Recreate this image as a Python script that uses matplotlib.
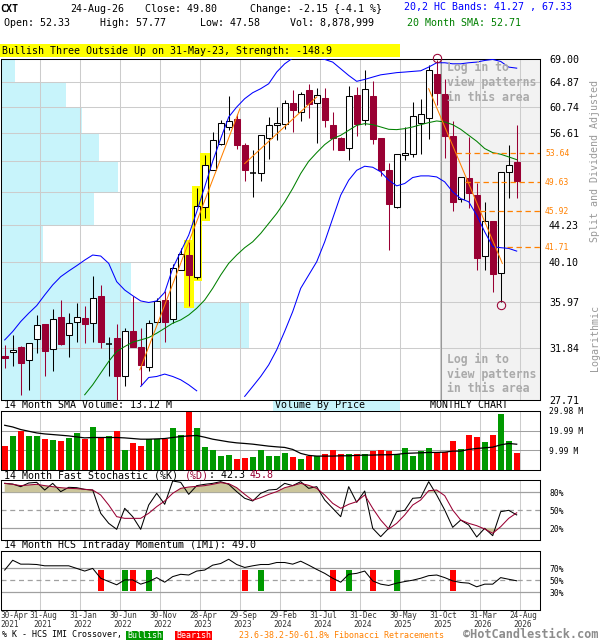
"""Monthly candlestick chart for CXT with bands, volume, stochastic and IMI panels."""

import numpy as np
import matplotlib
matplotlib.use('Agg')
import matplotlib.pyplot as plt
from matplotlib import ticker, transforms
from matplotlib.patches import Rectangle

plt.rcParams['font.family'] = ['DejaVu Sans Mono', 'DejaVu Sans']

W, H = 600, 640

# ---- data (monthly, Apr-2021 .. Aug-2026) ----
OPEN = [31.20, 31.49, 31.94, 30.85, 32.60, 33.97, 31.74, 34.58, 32.98, 34.12,
        34.51, 34.03, 36.60, 32.20, 32.69, 29.51, 33.30, 31.90, 30.23, 34.18,
        36.21, 34.45, 39.24, 40.84, 38.54, 46.46, 51.33, 55.02, 57.53, 58.71,
        54.76, 50.88, 50.92, 55.91, 57.78, 58.04, 61.39, 59.88, 63.44, 61.39,
        62.21, 57.88, 55.91, 54.44, 62.60, 58.66, 62.43, 55.86, 51.23, 46.46,
        53.43, 53.48, 58.14, 58.98, 66.21, 62.77, 56.16, 47.50, 50.20, 47.93,
        40.77, 44.76, 38.88, 51.02, 52.33]
HIGH = [32.12, 32.98, 32.00, 32.25, 34.79, 34.00, 35.36, 36.21, 34.95, 35.89,
        35.67, 38.64, 37.70, 32.78, 33.93, 33.57, 36.63, 33.63, 34.33, 36.37,
        37.09, 39.83, 41.57, 42.31, 48.80, 53.34, 56.76, 58.56, 62.43, 59.61,
        55.17, 54.15, 56.26, 59.08, 60.68, 61.77, 63.44, 63.16, 64.47, 63.90,
        63.90, 59.88, 56.03, 64.12, 64.01, 66.93, 64.99, 55.86, 52.30, 53.48,
        57.53, 61.50, 62.05, 67.82, 68.73, 65.33, 58.46, 50.33, 56.03, 49.58,
        47.01, 44.76, 51.02, 54.76, 57.77]
LOW = [30.18, 30.31, 28.10, 28.48, 31.46, 29.58, 29.96, 32.12, 31.07, 32.35,
       32.25, 32.40, 31.84, 29.51, 27.73, 28.73, 31.90, 28.86, 29.96, 33.93,
       32.40, 34.03, 39.24, 35.67, 38.31, 45.04, 51.23, 54.76, 57.02, 54.30,
       49.76, 47.72, 49.76, 52.86, 55.51, 57.17, 56.76, 58.46, 58.98, 55.12,
       57.53, 54.05, 54.05, 52.72, 56.11, 57.78, 54.93, 50.47, 41.39, 46.26,
       52.63, 53.10, 53.55, 55.76, 60.95, 53.01, 45.97, 47.09, 46.26, 39.24,
       39.24, 36.96, 36.06, 47.59, 47.58]
CLOSE = [31.00, 31.69, 30.58, 32.25, 33.88, 31.55, 34.39, 32.23, 34.03, 34.58,
         33.93, 36.37, 32.35, 32.20, 29.51, 33.37, 31.97, 30.39, 34.03, 36.11,
         34.18, 39.41, 40.91, 38.71, 46.55, 51.93, 55.61, 58.20, 58.46, 54.88,
         51.33, 50.88, 56.26, 57.78, 58.18, 61.39, 60.14, 62.88, 61.23, 62.60,
         58.66, 55.91, 54.15, 62.49, 57.93, 63.73, 55.76, 51.23, 46.79, 53.48,
         53.71, 59.19, 59.61, 66.93, 62.99, 56.16, 47.01, 50.33, 48.15, 40.55,
         44.72, 38.79, 51.02, 51.95, 49.80]

# volume in millions of shares
VOLUME = [12.2, 17.2, 19.8, 17.2, 17.2, 15.8, 15.2, 14.7, 16.2, 18.7,
          15.8, 21.7, 16.8, 17.2, 19.8, 10.2, 13.7, 12.2, 15.5, 15.5,
          15.8, 21.2, 17.7, 29.98, 21.2, 11.7, 10.2, 7.2, 7.7, 5.8,
          6.3, 6.8, 10.2, 7.2, 7.2, 8.7, 6.7, 5.7, 7.3, 7.3,
          8.2, 10.2, 8.2, 8.2, 8.2, 8.2, 9.7, 10.2, 9.7, 8.2,
          11.2, 7.2, 9.7, 11.2, 9.2, 9.2, 14.7, 10.7, 17.7, 16.7,
          14.2, 17.7, 28.2, 14.7, 8.88]
VOL_SMA = [22.65, 21.8, 20.5, 19.65, 18.8, 18.3, 17.98, 17.65, 17.3, 16.8,
           16.3, 16.5, 16.5, 16.5, 16.5, 16.3, 15.98, 15.65, 15.65, 15.8,
           15.98, 16.5, 16.98, 17.3, 17.5, 16.65, 15.65, 14.98, 14.3, 13.8,
           13.5, 13.15, 12.65, 12.15, 11.8, 11.5, 10.5, 8.5, 7.5, 7.15,
           7.15, 7.15, 7.3, 7.3, 7.5, 7.65, 7.65, 7.8, 7.8, 8.0,
           8.5, 8.65, 8.8, 8.98, 8.98, 9.15, 9.65, 9.65, 10.5, 10.98,
           11.3, 11.65, 12.8, 13.5, 13.12]

BB_UPPER = [32.54, 33.28, 34.18, 34.95, 35.67, 36.70, 37.70, 38.54, 39.13, 39.69,
            40.29, 40.84, 40.73, 39.94, 38.03, 37.19, 36.63, 36.12, 35.97, 36.12,
            36.96, 39.41, 41.21, 43.07, 45.84, 49.01, 52.48, 55.76, 59.08, 60.68,
            62.05, 63.05, 63.73, 64.58, 66.63, 68.12, 69.16, 69.50, 69.40, 69.16,
            68.92, 68.43, 67.22, 66.03, 65.00, 65.33, 65.74, 66.14, 66.33, 66.53,
            66.63, 66.75, 66.86, 67.52, 68.31, 68.31, 68.12, 68.12, 68.31, 68.43,
            68.73, 68.92, 68.55, 67.52, 67.33]
BB_LOWER = [None] * 17 + [
    28.73, 29.43, 29.51, 29.70, 29.51, 29.25, 28.86, 28.40] + [None] * 5 + [
    27.98, 28.73, 29.51, 30.44, 31.69, 33.30, 35.10, 37.36, 38.71, 40.11,
    42.31, 45.04, 47.93, 49.89, 51.23, 51.79, 51.65, 51.02, 49.89, 49.14,
    49.45, 50.25, 50.47, 50.47, 50.33, 49.67, 48.36, 47.50, 47.09, 45.44,
    43.46, 41.76, 41.65, 41.57, 41.27]
SMA20 = [None] * 10 + [
    28.10, 28.86, 29.78, 30.72, 31.55, 31.97, 32.35, 32.54, 32.75, 33.13,
    33.57, 34.03, 34.33, 34.79, 35.42, 36.21, 37.36, 38.71, 39.94, 40.84,
    41.65, 42.31, 43.27, 44.44, 45.64, 47.08, 48.80, 50.79, 52.48, 53.71,
    54.88, 55.76, 56.26, 57.02, 57.78, 58.04, 57.88, 57.53, 57.17, 57.12,
    57.27, 57.53, 57.88, 58.20, 58.46, 58.30, 57.88, 57.17, 56.26, 55.37,
    54.30, 53.71, 53.48, 53.10, 52.71]

STOCH_K = [94.9, 93.8, 89.4, 95.5, 96.6, 83.8, 94.9, 81.1, 88.3, 87.7,
           84.9, 83.8, 45.0, 28.3, 18.3, 53.3, 39.4, 18.3, 58.8, 78.3,
           60.0, 98.8, 96.6, 76.6, 91.1, 93.3, 94.9, 97.7, 93.3, 81.1,
           70.0, 65.5, 78.3, 83.8, 84.9, 94.9, 91.1, 97.7, 86.6, 89.4,
           67.2, 53.3, 39.4, 89.4, 63.3, 82.2, 20.0, 6.1, 20.0, 47.7,
           50.0, 70.0, 71.1, 97.7, 75.5, 50.5, 21.6, 33.8, 25.5, 5.5,
           20.0, 7.7, 47.7, 50.0, 42.3]
STOCH_D = [94.9, 93.3, 91.1, 92.2, 93.3, 91.1, 89.4, 87.7, 86.6, 86.1,
           84.9, 83.8, 75.5, 58.8, 39.4, 36.6, 36.6, 36.6, 45.0, 56.1,
           65.5, 78.3, 86.6, 88.8, 89.9, 91.1, 93.3, 96.1, 94.4, 87.7,
           76.6, 66.6, 71.1, 76.6, 81.1, 87.7, 91.1, 94.9, 91.6, 86.6,
           75.5, 61.6, 53.3, 60.0, 64.4, 75.5, 53.3, 33.8, 18.8, 28.3,
           42.2, 58.8, 67.2, 82.7, 83.8, 74.4, 50.5, 33.8, 28.3, 24.4,
           18.8, 11.6, 22.7, 36.6, 45.8]
IMI = [67.2, 83.8, 77.2, 77.2, 76.6, 74.4, 74.4, 74.4, 74.4, 70.0,
       65.5, 70.0, 53.3, 47.7, 42.2, 50.5, 50.5, 43.3, 47.7, 54.4,
       46.6, 56.1, 60.0, 58.8, 65.5, 67.2, 75.5, 78.3, 85.5, 76.6,
       71.6, 74.4, 76.6, 76.6, 80.0, 80.0, 77.2, 82.2, 75.5, 68.3,
       61.6, 53.3, 46.6, 60.0, 61.6, 65.5, 48.8, 43.3, 41.1, 45.0,
       47.7, 50.0, 53.3, 57.7, 58.8, 54.4, 48.8, 46.1, 45.0, 38.8,
       43.3, 43.3, 54.4, 51.6, 49.0]
BULL_CROSS = [15, 18, 32, 43, 49]
BEAR_CROSS = [12, 16, 30, 41, 46, 56]
PATTERN_IDX = [23, 24, 25]
HIGH_MARK, LOW_MARK = 54, 62

PRICE_TICKS = [69.00, 64.87, 60.74, 56.61, 52.48, 48.35, 44.23, 40.10, 35.97, 31.84, 27.71]
PRICE_HIDDEN = [52.48, 48.35]
VBP_VOLUME = [14, 65, 81, 98, 117, 93, 42, 130, 248, 116]   # per price bin, top bin first
FIB_LEVELS = [53.64, 49.63, 45.92, 41.71]
FIB_START = [56.4, 57.5, 59.4, 62.8]
TREND_LINES = [((16.9, 30.04), (29.4, 60.41)),
               ((30.0, 52.16), (39.0, 62.33)),
               ((53.0, 63.73), (62.2, 39.94))]
VOL_TICKS = [9.99, 19.99, 29.98]
DATE_LABELS = [('30-Apr', '2021'), ('31-Aug', '2021'), ('31-Jan', '2022'), ('30-Jun', '2022'),
               ('30-Nov', '2022'), ('28-Apr', '2023'), ('29-Sep', '2023'), ('29-Feb', '2024'),
               ('31-Jul', '2024'), ('31-Dec', '2024'), ('30-May', '2025'), ('31-Oct', '2025'),
               ('31-Mar', '2026'), ('24-Aug', '2026')]

MAROON = '#990033'
BLUE = '#0000ff'
GREEN_LINE = '#008000'
ORANGE = '#ff8000'
VOL_RED = '#ff0000'
VOL_GREEN = '#009900'
CYAN = '#c8f4fb'
KHAKI = '#cbc59b'
GRID = '#cccccc'
REF = '#a0a0a0'


def xi(px):
    """pixel column -> month index"""
    return (px - 4.7) / 8.0


def ftext(x, y, s, **kw):
    kw.setdefault('size', 7.2)
    kw.setdefault('va', 'center')
    return fig.text(x / W, 1 - y / H, s, **kw)


def panel(top, bottom):
    return fig.add_axes([0.5 / W, 1 - bottom / H, 539.5 / W, (bottom - top) / H])


XL = (xi(0.5), xi(540))
GRID_X = [xi(40.3 + 40 * k) for k in range(13)]

fig = plt.figure(figsize=(W / 100, H / 100), dpi=100)
fig.patch.set_facecolor('white')

ax = panel(59, 400)
ax_vol = panel(410.7, 470.3)
ax_sto = panel(480.3, 540.3)
ax_imi = panel(550.7, 609.7)

idx = np.arange(len(CLOSE))
for a in (ax, ax_vol, ax_sto, ax_imi):
    a.set_xlim(*XL)
    a.set_xticks(GRID_X)
    a.set_xticklabels([])
    a.tick_params(axis='x', length=0)
    a.grid(axis='x', color=GRID, linewidth=0.75)
    a.set_axisbelow(True)
    a.yaxis.tick_right()
    a.tick_params(axis='y', length=0, pad=6.5, labelsize=5.8)
    for s in a.spines.values():
        s.set_color('black')
        s.set_linewidth(0.75)

# ---- main price panel ----
ax.set_yscale('log')
ax.set_ylim(27.71, 69.00)
ax.yaxis.set_minor_locator(ticker.NullLocator())
ax.set_yticks(PRICE_TICKS)
ax.set_yticklabels(['' if p in PRICE_HIDDEN else f'{p:.2f}' for p in PRICE_TICKS])
ax.tick_params(axis='y', labelsize=7.2)
ax.grid(axis='y', color=GRID, linewidth=0.75)

shade_x = xi(440.7)
ax.axvspan(shade_x, XL[1], color='#f2f2f2', zorder=0.1, lw=0)
ax.axvline(shade_x, color='#999999', lw=0.75, zorder=0.6)

vbp_scale = 0.46 * (XL[1] - XL[0]) / max(VBP_VOLUME)
for k, v in enumerate(VBP_VOLUME):
    hi, lo = PRICE_TICKS[k], PRICE_TICKS[k + 1]
    ax.add_patch(Rectangle((XL[0], lo), v * vbp_scale, hi - lo,
                           facecolor=CYAN, lw=0, zorder=0.3))

for i in PATTERN_IDX:
    lo, hi = LOW[i] / 1.006, HIGH[i] * 1.006
    ax.add_patch(Rectangle((i - 0.65, lo), 1.3, hi - lo, facecolor='#ffff00', lw=0, zorder=2.5))

for i in idx:
    o, h, l, c = OPEN[i], HIGH[i], LOW[i], CLOSE[i]
    if c > o:
        face, edge = 'white', 'black'
    elif c < o:
        face, edge = MAROON, MAROON
    else:
        face, edge = 'black', 'black'
    ax.vlines(i, l, h, color=edge, lw=0.75, zorder=3)
    if c != o:
        ax.add_patch(Rectangle((i - 0.36, min(o, c)), 0.72, abs(c - o),
                               facecolor=face, edgecolor=edge, lw=0.75, zorder=3.1))
    else:
        ax.hlines(c, i - 0.4, i + 0.4, color='black', lw=1.1, zorder=3.1)

bb_lo = np.array([np.nan if v is None else v for v in BB_LOWER])
sma = np.array([np.nan if v is None else v for v in SMA20])
ax.plot(idx, BB_UPPER, color=BLUE, lw=0.75, zorder=4)
ax.plot(idx, bb_lo, color=BLUE, lw=0.75, zorder=4)
ax.plot(idx, sma, color=GREEN_LINE, lw=0.75, zorder=4)

for (x0, y0), (x1, y1) in TREND_LINES:
    ax.plot([x0, x1], [y0, y1], color=ORANGE, lw=0.75, zorder=4)

lab_tr = transforms.blended_transform_factory(ax.transAxes, ax.transData)
for lvl, x0 in zip(FIB_LEVELS, FIB_START):
    ax.plot([x0, XL[1]], [lvl, lvl], color=ORANGE, lw=0.9, ls=(0, (4.3, 2.9)), zorder=4)
    ax.text((545 - 0.5) / 539.5, lvl, f'{lvl:.2f}', transform=lab_tr, color=ORANGE,
            size=5.8, va='center', ha='left', clip_on=False)

up = transforms.offset_copy(ax.transData, fig=fig, x=0, y=1.5, units='points')
dn = transforms.offset_copy(ax.transData, fig=fig, x=0, y=-2.5, units='points')
ax.plot([HIGH_MARK], [HIGH[HIGH_MARK]], 'o', ms=6, mfc='none', mec=MAROON, mew=0.75,
        transform=up, zorder=5, clip_on=False)
ax.plot([LOW_MARK], [LOW[LOW_MARK]], 'o', ms=6, mfc='none', mec=MAROON, mew=0.75,
        transform=dn, zorder=5)

for y0 in (67.3, 359):
    for n, line in enumerate(['Log in to', 'view patterns', 'in this area']):
        ftext(446.7, y0 + 15 * n, line, size=8.3, weight='bold', color='#aaaaaa')

# ---- volume panel ----
vol_col = [VOL_GREEN if c >= o else VOL_RED for o, c in zip(OPEN, CLOSE)]
ax_vol.bar(idx, VOLUME, width=0.75, color=vol_col, zorder=2)
ax_vol.plot(idx, VOL_SMA, color='black', lw=0.9, zorder=3)
ax_vol.set_ylim(0, 29.98)
ax_vol.set_yticks(VOL_TICKS)
ax_vol.set_yticklabels([f'{v:.2f} M' for v in VOL_TICKS])
for v in VOL_TICKS[:2]:
    ax_vol.axhline(v, color=REF, lw=0.75, zorder=1)

# ---- stochastic panel ----
k_arr, d_arr = np.array(STOCH_K), np.array(STOCH_D)
ax_sto.set_ylim(0, 100)
ax_sto.fill_between(idx, 80, d_arr, where=d_arr > 80, interpolate=True, color=KHAKI, lw=0, zorder=1.5)
ax_sto.fill_between(idx, 20, d_arr, where=d_arr < 20, interpolate=True, color=KHAKI, lw=0, zorder=1.5)
for lvl, ls in ((80, '-'), (50, (0, (4, 3))), (20, '-')):
    ax_sto.axhline(lvl, color=REF, lw=0.9, ls=ls, zorder=1)
ax_sto.plot(idx, k_arr, color='black', lw=0.75, zorder=3)
ax_sto.plot(idx, d_arr, color=MAROON, lw=0.75, zorder=3)
ax_sto.set_yticks([20, 50, 80])
ax_sto.set_yticklabels(['20%', '50%', '80%'])

# ---- IMI panel ----
ax_imi.set_ylim(0, 100)
for lvl, ls in ((70, '-'), (50, (0, (4, 3))), (30, '-')):
    ax_imi.axhline(lvl, color=REF, lw=0.9, ls=ls, zorder=1)
ax_imi.bar(BULL_CROSS, 36, bottom=32, width=0.75, color=VOL_GREEN, zorder=2)
ax_imi.bar(BEAR_CROSS, 36, bottom=32, width=0.75, color=VOL_RED, zorder=2)
ax_imi.plot(idx, IMI, color='black', lw=0.75, zorder=3)
ax_imi.set_yticks([30, 50, 70])
ax_imi.set_yticklabels(['30%', '50%', '70%'])

# date labels under the last panel (first one sits flush with the left edge)
date_tr = transforms.blended_transform_factory(ax_imi.transData, fig.transFigure)
for n, (d, y) in enumerate(DATE_LABELS):
    if n == 0:
        x, ha = XL[0], 'left'
    else:
        x, ha = GRID_X[n - 1] + 0.35, 'center'
    for txt, ypx in ((d, 616), (y, 624.5)):
        fig.text(x, 1 - ypx / H, txt, transform=date_tr, ha=ha, va='center',
                 size=5.6, color='#333333')

# ---- header ----
ftext(0, 9, 'CXT', weight='bold')
ftext(70, 9, '24-Aug-26')
ftext(145, 9, f'Close: {CLOSE[-1]:.2f}')
chg = CLOSE[-1] - CLOSE[-2]
ftext(250, 9, f'Change: {chg:.2f} {{{chg / CLOSE[-2] * 100:.1f} %}}')
ftext(4, 23, f'Open: {OPEN[-1]:.2f}')
ftext(100, 23, f'High: {HIGH[-1]:.2f}')
ftext(200, 23, f'Low: {LOW[-1]:.2f}')
ftext(290, 23, 'Vol: 8,878,999')
ftext(404, 7, f'20,2 HC Bands: {BB_LOWER[-1]:.2f} , {BB_UPPER[-1]:.2f}', color=BLUE)
ftext(407, 23, f'20 Month SMA: {SMA20[-1]:.2f}', color=GREEN_LINE)

fig.add_artist(Rectangle((0, 1 - 57 / H), 400 / W, 13 / H, transform=fig.transFigure,
                         facecolor='#ffff00', lw=0))
ftext(2, 50.5, 'Bullish Three Outside Up on 31-May-23, Strength: -148.9')

ftext(595, 161, 'Split and Dividend Adjusted', rotation=90, ha='center', color='#999999')
ftext(595, 338, 'Logarithmic', rotation=90, ha='center', color='#999999')

# ---- panel titles ----
ftext(4, 405.5, f'14 Month SMA Volume: {VOL_SMA[-1]:.2f} M')
fig.add_artist(Rectangle((273 / W, 1 - 410.5 / H), 127 / W, 10 / H, transform=fig.transFigure,
                         facecolor=CYAN, lw=0))
ftext(275, 405.5, 'Volume By Price')
ftext(430, 405.5, 'MONTHLY CHART')

ftext(4, 475.5, '14 Month Fast Stochastic (%K) ')
ftext(184.6, 475.5, '(%D)', color=MAROON)
ftext(208.7, 475.5, f': {STOCH_K[-1]:.1f}')
ftext(250, 475.5, f'{STOCH_D[-1]:.1f}', color=MAROON)

ftext(4, 545.5, f'14 Month HCS Intraday Momentum (IMI): {IMI[-1]:.1f}')

# ---- bottom legend ----
ftext(2, 635, '% K - HCS IMI Crossover,', size=6)
for x0, x1, txt, col in ((125.7, 163.3, 'Bullish', VOL_GREEN), (175, 212.3, 'Bearish', VOL_RED)):
    fig.add_artist(Rectangle((x0 / W, 1 - 639.5 / H), (x1 - x0) / W, 9 / H,
                             transform=fig.transFigure, facecolor=col, lw=0))
    ftext((x0 + x1) / 2, 635, txt, size=6, color='white', ha='center')
ftext(239, 635, '23.6-38.2-50-61.8% Fibonacci Retracements', size=6, color=ORANGE)
ftext(463, 634.5, '\u00a9HotCandlestick.com', size=8.6, weight='bold', color='#8c8c8c')

fig.savefig('out.png', dpi=100)
